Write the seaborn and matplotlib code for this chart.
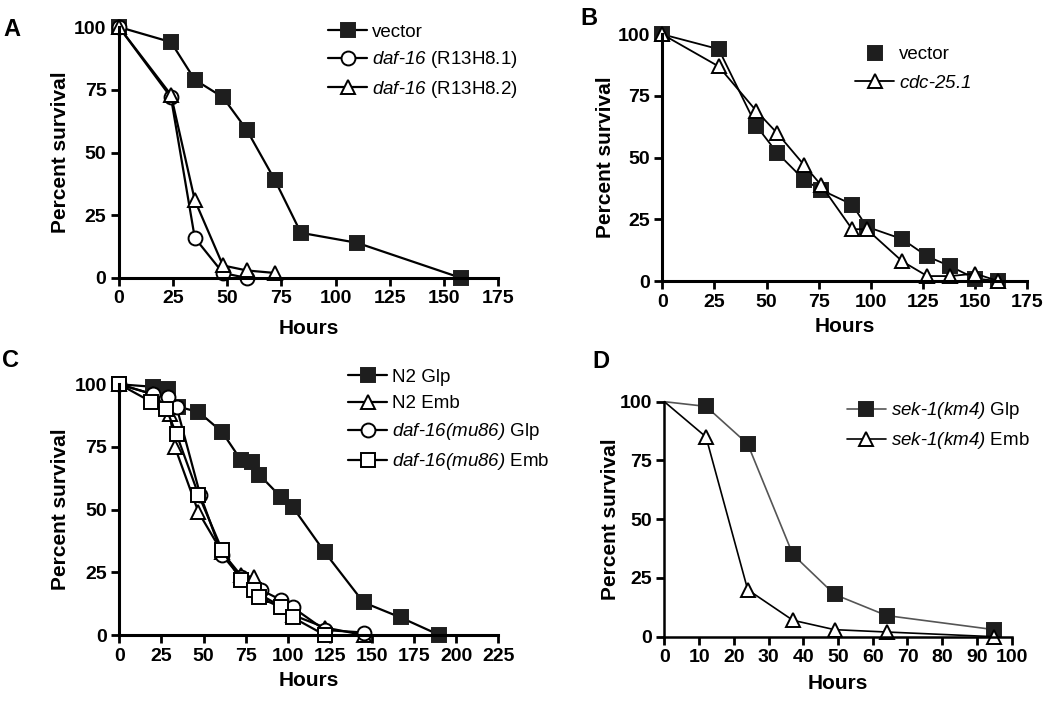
import matplotlib
matplotlib.use("Agg")
import matplotlib.pyplot as plt
import seaborn as sns
from matplotlib.lines import Line2D

sns.set_theme(style="ticks")
plt.rcParams['font.family'] = ['Liberation Sans', 'DejaVu Sans']
plt.rcParams['mathtext.fontset'] = 'custom'
plt.rcParams['mathtext.rm'] = 'Liberation Sans'
plt.rcParams['mathtext.sf'] = 'Liberation Sans:italic'
plt.rcParams['text.color'] = 'black'
plt.rcParams['axes.labelcolor'] = 'black'
plt.rcParams['xtick.color'] = 'black'
plt.rcParams['ytick.color'] = 'black'

# ---- Panel A data ----
a_vec_x = [0, 24, 35, 48, 59, 72, 84, 110, 158]
a_vec_y = [100, 94, 79, 72, 59, 39, 18, 14, 0]
a_r1_x = [0, 24, 35, 48, 59]
a_r1_y = [100, 72, 16, 2, 0]
a_r2_x = [0, 24, 35, 48, 59, 72]
a_r2_y = [100, 73, 31, 5, 3, 2]

# ---- Panel B data ----
b_x = [0, 27, 45, 55, 68, 76, 91, 98, 115, 127, 138, 150, 161]
b_vec_y = [100, 94, 63, 52, 41, 37, 31, 22, 17, 10, 6, 1, 0]
b_cdc_y = [100, 87, 69, 60, 47, 39, 21, 21, 8, 2, 2, 3, 0]

# ---- Panel C data ----
c_glp_x = [0, 20, 29, 35, 47, 61, 72, 79, 83, 96, 103, 122, 145, 167, 190]
c_glp_y = [100, 99, 98, 91, 89, 81, 70, 69, 64, 55, 51, 33, 13, 7, 0]
c_emb_x = [0, 20, 30, 33, 47, 61, 72, 80, 84, 97, 103, 122, 145]
c_emb_y = [100, 96, 88, 75, 49, 33, 24, 23, 16, 11, 8, 3, 0]
c_dglp_x = [0, 20, 29, 34, 48, 61, 72, 84, 96, 103, 122, 145]
c_dglp_y = [100, 96, 95, 91, 56, 32, 23, 18, 14, 11, 2, 1]
c_demb_x = [0, 19, 28, 34, 47, 61, 72, 80, 83, 96, 103, 122]
c_demb_y = [100, 93, 90, 80, 56, 34, 22, 18, 15, 11, 7, 0]

# ---- Panel D data ----
d_x = [0, 12, 24, 37, 49, 64, 95]
d_glp_y = [100, 98, 82, 35, 18, 9, 3]
d_emb_y = [100, 85, 20, 7, 3, 2, 0]

fig = plt.figure(figsize=(10.5, 7.02), dpi=100)
axA = fig.add_axes([0.1133, 0.604, 0.361, 0.3575])
axB = fig.add_axes([0.6308, 0.5997, 0.3476, 0.3514])
axC = fig.add_axes([0.1136, 0.0954, 0.361, 0.3572])
axD = fig.add_axes([0.6327, 0.0930, 0.3308, 0.3348])

LW = 1.6
MS = 10
FILL = '#1e1e1e'


def series(ax, x, y, marker, filled, color='black', lw=LW, ms=MS, markevery=None):
    sns.lineplot(x=x, y=y, ax=ax, estimator=None, color=color, linewidth=lw,
                 marker=marker, markersize=ms,
                 markerfacecolor=FILL if filled else 'white',
                 markeredgecolor='black' if not filled else FILL,
                 markeredgewidth=1.4, clip_on=False, markevery=markevery,
                 legend=False)


def style_axis(ax, xmax, xstep, ylab_x, xlab_y):
    ax.set_xlim(0, xmax)
    ax.set_ylim(0, 100)
    ax.set_xticks(range(0, xmax + 1, xstep))
    ax.set_yticks([0, 25, 50, 75, 100])
    sns.despine(ax=ax)
    for s in ['left', 'bottom']:
        ax.spines[s].set_linewidth(2.2)
        ax.spines[s].set_color('black')
    ax.tick_params(width=2.0, length=6, color='black', labelsize=14, pad=3)
    for lab in ax.get_xticklabels() + ax.get_yticklabels():
        lab.set_fontweight('bold')
    ax.set_xlabel('Hours', fontsize=15, fontweight='bold', va='center')
    ax.set_ylabel('Percent survival', fontsize=15, fontweight='bold', va='center')
    ax.xaxis.set_label_coords(0.5, xlab_y)
    ax.yaxis.set_label_coords(ylab_x, 0.5)
    ax.set_facecolor('white')


def handle(marker, filled, line=True, color='black', lw=LW):
    return Line2D([], [], color=color, linewidth=lw, linestyle='-' if line else 'none',
                  marker=marker, markersize=MS,
                  markerfacecolor=FILL if filled else 'white',
                  markeredgecolor='black' if not filled else FILL,
                  markeredgewidth=1.4)


def legend(handles, labels, anchor, spacing):
    fig.legend(handles, labels, bbox_to_anchor=anchor, loc='upper left', frameon=False,
               fontsize=13.5, handlelength=2.1, handletextpad=0.25,
               labelspacing=spacing, borderpad=0, borderaxespad=0)


# Panel A
series(axA, a_vec_x, a_vec_y, 's', True)
series(axA, a_r1_x, a_r1_y, 'o', False)
series(axA, a_r2_x, a_r2_y, '^', False)
style_axis(axA, 175, 25, -0.153, -0.200)
legend([handle('s', True), handle('o', False), handle('^', False)],
       ['vector', r'$\mathsf{daf}$-$\mathsf{16}$ (R13H8.1)',
        r'$\mathsf{daf}$-$\mathsf{16}$ (R13H8.2)'],
       (0.3124, 0.9665), 0.45)

# Panel B
series(axB, b_x, b_vec_y, 's', True, lw=1.3)
series(axB, b_x, b_cdc_y, '^', False, lw=1.3)
style_axis(axB, 175, 25, -0.155, -0.186)
legend([handle('s', True, line=False), handle('^', False, lw=1.3)],
       ['vector', r'$\mathsf{cdc}$-$\mathsf{25.1}$'],
       (0.8143, 0.9345), 0.62)

# Panel C
series(axC, c_glp_x, c_glp_y, 's', True)
series(axC, c_emb_x, c_emb_y, '^', False)
series(axC, c_dglp_x, c_dglp_y, 'o', False)
series(axC, c_demb_x, c_demb_y, 's', False)
style_axis(axC, 225, 25, -0.156, -0.183)
legend([handle('s', True), handle('^', False), handle('o', False), handle('s', False)],
       ['N2 Glp', 'N2 Emb', r'$\mathsf{daf}$-$\mathsf{16(mu86)}$ Glp',
        r'$\mathsf{daf}$-$\mathsf{16(mu86)}$ Emb'],
       (0.3314, 0.4745), 0.48)

# Panel D
series(axD, d_x, d_glp_y, 's', True, color='#555555', lw=1.2, markevery=list(range(1, len(d_x))))
series(axD, d_x, d_emb_y, '^', False, lw=1.2, markevery=list(range(1, len(d_x))))
style_axis(axD, 100, 10, -0.155, -0.201)
axD.spines['left'].set_linewidth(1.8)
axD.spines['bottom'].set_linewidth(1.8)
legend([handle('s', True, color='#555555', lw=1.2), handle('^', False, lw=1.2)],
       [r'$\mathsf{sek}$-$\mathsf{1(km4)}$ Glp', r'$\mathsf{sek}$-$\mathsf{1(km4)}$ Emb'],
       (0.8064, 0.4300), 0.48)

# Panel letters
for lbl, x, y in [('A', 0.003, 0.958), ('B', 0.5524, 0.974), ('C', 0.002, 0.486), ('D', 0.5638, 0.485)]:
    fig.text(x, y, lbl, fontsize=17, fontweight='bold', va='center', ha='left')

fig.savefig('out.png', dpi=100, facecolor='white')
